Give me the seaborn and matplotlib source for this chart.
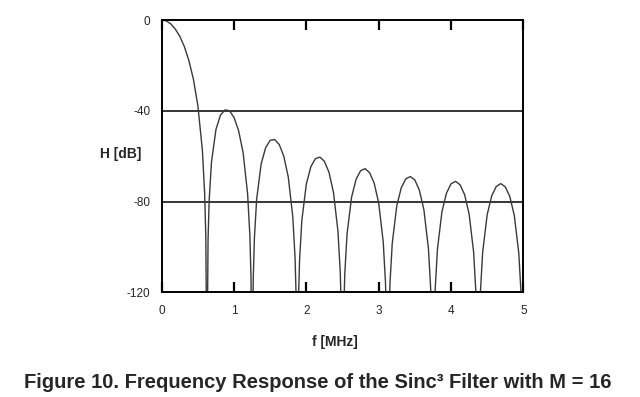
import matplotlib
matplotlib.use("Agg")
import matplotlib.pyplot as plt
import seaborn as sns
import pandas as pd

# frequency response values (f in MHz, H in dB)
# nulls drop below the -120 dB floor, written as -160 so they get clipped
freq_mhz = [
    0.0, 0.0625, 0.125, 0.1875, 0.25, 0.3125, 0.375, 0.4375, 0.5, 0.5625, 0.5938, 0.6094, 0.625,
    0.6406, 0.6563, 0.6875, 0.75, 0.8125, 0.875, 0.9375, 1.0, 1.0625, 1.125, 1.1875, 1.2188, 1.2344, 1.25,
    1.2656, 1.2813, 1.3125, 1.375, 1.4375, 1.5, 1.5625, 1.625, 1.6875, 1.75, 1.8125, 1.8438, 1.8594, 1.875,
    1.8906, 1.9063, 1.9375, 2.0, 2.0625, 2.125, 2.1875, 2.25, 2.3125, 2.375, 2.4375, 2.4688, 2.4844, 2.5,
    2.5156, 2.5313, 2.5625, 2.625, 2.6875, 2.75, 2.8125, 2.875, 2.9375, 3.0, 3.0625, 3.0938, 3.1094, 3.125,
    3.1406, 3.1563, 3.1875, 3.25, 3.3125, 3.375, 3.4375, 3.5, 3.5625, 3.625, 3.6875, 3.7188, 3.7344, 3.75,
    3.7656, 3.7813, 3.8125, 3.875, 3.9375, 4.0, 4.0625, 4.125, 4.1875, 4.25, 4.3125, 4.3438, 4.3594, 4.375,
    4.3906, 4.4063, 4.4375, 4.5, 4.5625, 4.625, 4.6875, 4.75, 4.8125, 4.875, 4.9375, 4.9688, 4.9844, 5.0,
]
h_db = [
    0.0, -0.4, -1.7, -4.0, -7.2, -11.7, -17.8, -26.0, -37.8, -57.5, -76.7, -95.3, -160,
    -96.6, -79.3, -62.7, -48.2, -41.9, -39.6, -40.0, -43.0, -48.7, -58.4, -76.6, -94.9, -113.2, -160,
    -113.9, -96.2, -79.0, -63.4, -56.2, -53.0, -52.7, -54.9, -60.0, -69.2, -86.8, -104.9, -123.1, -160,
    -123.5, -105.6, -88.3, -72.2, -64.6, -61.1, -60.4, -62.3, -67.1, -76.0, -93.3, -111.3, -129.4, -160,
    -129.7, -111.8, -94.3, -78.1, -70.2, -66.4, -65.5, -67.3, -71.9, -80.6, -97.7, -115.6, -133.7, -160,
    -133.9, -115.9, -98.4, -81.9, -73.9, -70.0, -69.0, -70.5, -75.0, -83.6, -100.6, -118.4, -136.5, -160,
    -136.6, -118.6, -101.0, -84.4, -76.3, -72.2, -71.1, -72.6, -76.9, -85.4, -102.2, -120.0, -138.0, -160,
    -138.1, -120.1, -102.4, -85.8, -77.5, -73.4, -72.1, -73.5, -77.7, -86.1, -102.8, -120.6, -138.6, -160,
]

x_ticks = [0, 1, 2, 3, 4, 5]
y_ticks = [0, -40, -80, -120]
ref_lines = [-40, -80]

sns.set_style("white")
plt.rcParams["font.family"] = ["Liberation Sans", "DejaVu Sans"]

df = pd.DataFrame({"f": freq_mhz, "H": h_db})

fig = plt.figure(figsize=(6.4, 3.97), dpi=100)
ax = fig.add_axes([0.2527, 0.2637, 0.5650, 0.6859])

sns.lineplot(data=df, x="f", y="H", ax=ax, color="#3a3a3a", linewidth=1.0, sort=False)

for yv in ref_lines:
    ax.axhline(yv, color="black", linewidth=1.1, zorder=1)

ax.set_xlim(0, 5)
ax.set_ylim(-120, 0)
ax.set_xticks(x_ticks)
ax.set_xticklabels([str(t) for t in x_ticks], fontsize=8.5)
ax.set_yticks(y_ticks)
ax.set_yticklabels([str(t) for t in y_ticks], fontsize=8.5)
ax.tick_params(axis="x", direction="in", top=True, bottom=True, length=7, width=1.6, pad=9, color="black")
ax.tick_params(axis="y", length=0, pad=8)
ax.set_xlabel("")
ax.set_ylabel("")
for s in ax.spines.values():
    s.set_visible(True)
    s.set_color("black")
    s.set_linewidth(1.4)

fig.text(121 / 640, 1 - 154 / 397, "H [dB]", fontsize=10, fontweight="bold", ha="center", va="center")
fig.text(335 / 640, 1 - 342 / 397, "f [MHz]", fontsize=10, fontweight="bold", ha="center", va="center")
fig.text(318 / 640, 1 - 382 / 397, "Figure 10. Frequency Response of the Sinc³ Filter with M = 16",
         fontsize=14.5, fontweight="bold", ha="center", va="center")

fig.savefig("out.png", dpi=100)
